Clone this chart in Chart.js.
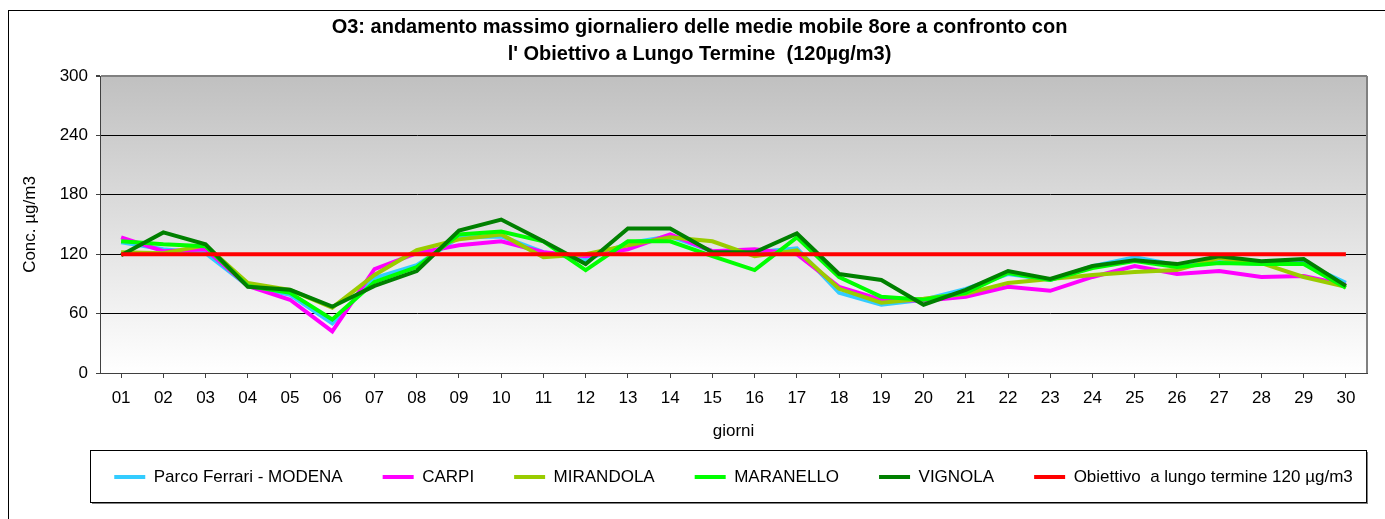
<!DOCTYPE html>
<html>
<head>
<meta charset="utf-8">
<script src="https://cdn.jsdelivr.net/npm/chart.js@4.4.1/dist/chart.umd.min.js"></script>
<style>
  html, body { margin: 0; padding: 0; background: #fff; }
  #wrap { width: 1385px; height: 519px; }
</style>
</head>
<body>
<div id="wrap"><canvas id="myChart"></canvas></div>
<script>
let giorni = ['01', '02', '03', '04', '05', '06', '07', '08', '09', '10', '11', '12', '13', '14', '15',
              '16', '17', '18', '19', '20', '21', '22', '23', '24', '25', '26', '27', '28', '29', '30'];
let modena    = [132, 125, 121, 88, 79, 50, 96, 109, 137, 138, 122, 114, 131, 138, 123, 122, 126, 81, 69, 74, 85, 100, 94, 108, 117, 109, 112, 110, 111, 91];
let carpi     = [137, 123, 125, 88, 74, 42, 105, 121, 129, 133, 122, 118, 125, 140, 123, 125, 120, 87, 74, 73, 77, 87, 83, 97, 108, 100, 103, 97, 98, 89];
let mirandola = [122, 121, 129, 91, 84, 66, 99, 124, 135, 140, 117, 120, 129, 137, 133, 118, 124, 85, 71, 75, 80, 91, 95, 99, 102, 104, 116, 111, 97, 87];
let maranello = [133, 130, 128, 88, 81, 54, 92, 107, 140, 143, 133, 104, 133, 133, 118, 104, 137, 97, 77, 74, 81, 101, 94, 106, 113, 107, 111, 110, 110, 86];
let vignola   = [119, 142, 130, 87, 84, 67, 88, 103, 144, 155, 133, 110, 146, 146, 122, 122, 141, 100, 94, 69, 84, 103, 95, 108, 114, 110, 118, 113, 115, 88];
let obiettivo = [120, 120, 120, 120, 120, 120, 120, 120, 120, 120, 120, 120, 120, 120, 120,
                 120, 120, 120, 120, 120, 120, 120, 120, 120, 120, 120, 120, 120, 120, 120];
let yTicks = [0, 60, 120, 180, 240, 300];

Chart.defaults.font.family = "'Liberation Sans', Arial, sans-serif";
Chart.defaults.color = '#000';

// sfondo, cornici e riquadro legenda
const cornici = {
    id: 'cornici',
    afterLayout(chart) {
        const l = chart.legend, a = chart.chartArea;
        const dx = (a.left + a.right) / 2 - (l.left + l.right) / 2;
        l.left += dx; l.right += dx;
        l.top -= 23.5; l.bottom -= 23.5;
        const t = chart.titleBlock;
        t.left += 12; t.right += 12;
    },
    beforeDraw(chart) {
        const {ctx, chartArea: a} = chart;
        ctx.save();
        ctx.fillStyle = '#fff';
        ctx.fillRect(0, 0, chart.width, chart.height);
        ctx.strokeStyle = '#000';
        ctx.lineWidth = 1;
        ctx.strokeRect(8.5, 10.5, chart.width, chart.height);
        const g = ctx.createLinearGradient(0, a.top, 0, a.bottom);
        g.addColorStop(0, '#c0c0c0');
        g.addColorStop(1, '#ffffff');
        ctx.fillStyle = g;
        ctx.fillRect(a.left, a.top, a.width, a.height);
        // riquadro legenda
        const top = a.bottom + 77, h = 52, left = a.left - 10, w = a.width + 9;
        ctx.fillStyle = '#808080';
        ctx.fillRect(left + 2, top + 2, w, h);
        ctx.fillStyle = '#fff';
        ctx.fillRect(left, top, w, h);
        ctx.strokeRect(left + 0.5, top + 0.5, w, h);
        ctx.restore();
    },
    beforeDatasetsDraw(chart) {
        const {ctx, chartArea: a} = chart;
        ctx.save();
        ctx.strokeStyle = '#808080';
        ctx.lineWidth = 2;
        ctx.beginPath();
        ctx.moveTo(a.right, a.top);
        ctx.lineTo(a.right, a.bottom);
        ctx.stroke();
        ctx.restore();
    }
};

function serie(label, data, colore, ordine) {
    return {
        label: label,
        data: data,
        borderColor: colore,
        backgroundColor: colore,
        borderWidth: 4,
        pointRadius: 0,
        tension: 0,
        fill: false,
        order: ordine,
    };
}

const ctx = document.getElementById('myChart').getContext('2d');
const myChart = new Chart(ctx, {
    type: 'line',
    data: {
        labels: giorni,
        datasets: [
            serie('Parco Ferrari - MODENA', modena, '#33ccff', 5),
            serie('CARPI', carpi, '#ff00ff', 4),
            serie('MIRANDOLA', mirandola, '#99cc00', 3),
            serie('MARANELLO', maranello, '#00ff00', 2),
            serie('VIGNOLA', vignola, '#008000', 1),
            serie('Obiettivo  a lungo termine 120 µg/m3', obiettivo, '#ff0000', 0),
        ]
    },
    plugins: [cornici],
    options: {
        responsive: true,
        maintainAspectRatio: false,
        animation: false,
        devicePixelRatio: 1,
        events: [],
        layout: { padding: { left: 8, right: 18, top: 0, bottom: 0 } },
        plugins: {
            title: {
                display: true,
                text: ['O3: andamento massimo giornaliero delle medie mobile 8ore a confronto con',
                       "l' Obiettivo a Lungo Termine  (120µg/m3)"],
                font: { size: 20, weight: 'bold', lineHeight: 27 / 20 },
                color: '#000',
                padding: { top: 13.5, bottom: 8.5 }
            },
            legend: {
                position: 'bottom',
                labels: {
                    boxWidth: 31,
                    boxHeight: 4,
                    padding: 40,
                    color: '#000',
                    font: { size: 17 },
                    sort: (a, b) => a.datasetIndex - b.datasetIndex,
                    generateLabels(chart) {
                        return Chart.defaults.plugins.legend.labels.generateLabels(chart)
                            .map(it => Object.assign(it, { fillStyle: it.strokeStyle, lineWidth: 0 }));
                    }
                }
            },
            tooltip: { enabled: false }
        },
        scales: {
            x: {
                offset: true,
                grid: { drawOnChartArea: false, tickLength: 5, tickColor: '#404040' },
                border: { color: '#404040' },
                ticks: { font: { size: 17 }, color: '#000', padding: 10, maxRotation: 0, autoSkip: false },
                title: { display: true, text: 'giorni', font: { size: 17 }, color: '#000', padding: { top: 0, bottom: 10 } },
                afterFit(scale) { scale.height = 79; }
            },
            y: {
                min: 0,
                max: 300,
                afterBuildTicks(scale) { scale.ticks = yTicks.map(v => ({ value: v })); },
                grid: {
                    color: c => c.tick && c.tick.value === 300 ? '#808080' : '#000',
                    lineWidth: c => c.tick && c.tick.value === 300 ? 2 : 1,
                    tickLength: 4,
                    tickColor: '#404040'
                },
                border: { color: '#404040' },
                ticks: { font: { size: 17 }, color: '#000', padding: 8 },
                title: { display: true, text: 'Conc. µg/m3', font: { size: 17 }, color: '#000', padding: { top: 12, bottom: 0 } },
                afterFit(scale) { scale.width = 92; }
            }
        }
    }
});
</script>
</body>
</html>
